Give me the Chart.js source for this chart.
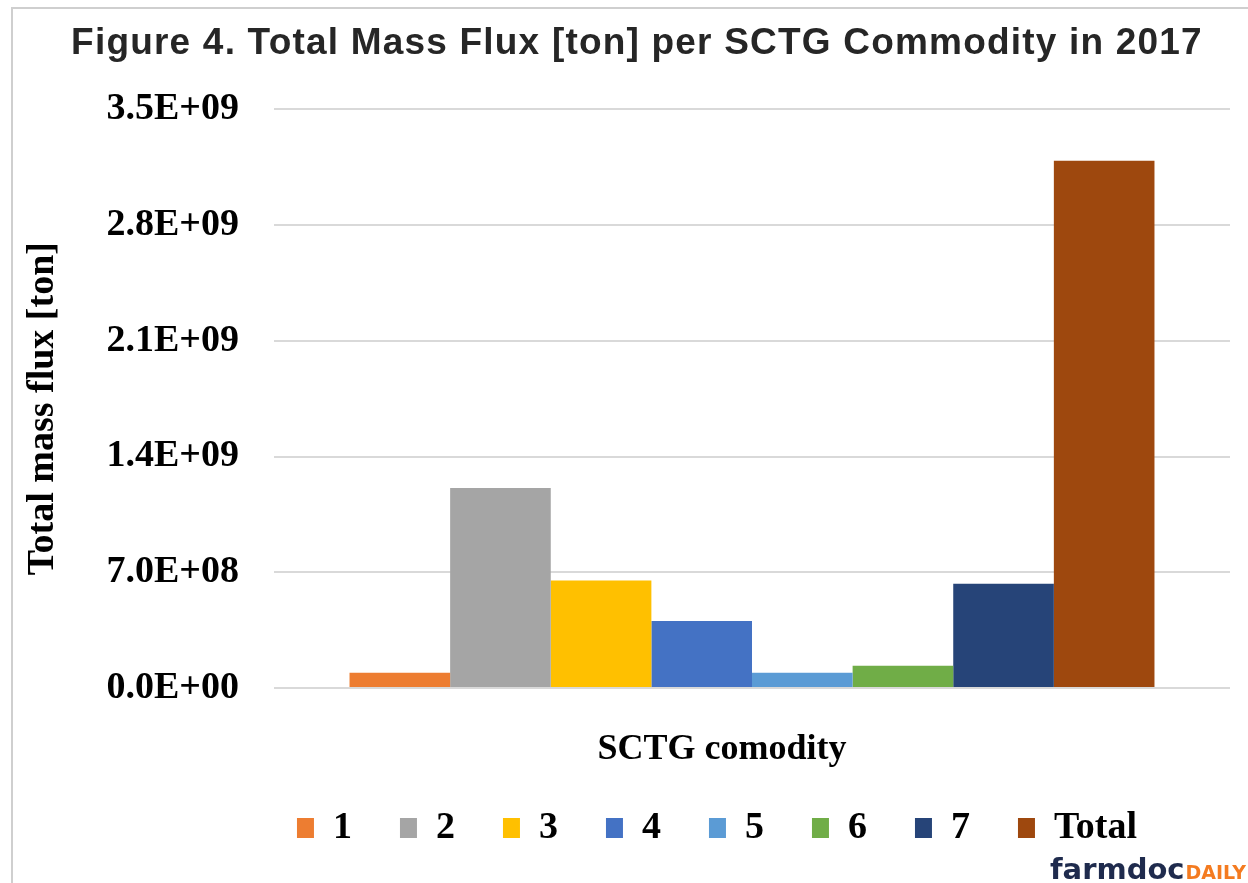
<!DOCTYPE html>
<html>
<head>
<meta charset="utf-8">
<script src="https://cdn.jsdelivr.net/npm/chart.js@4.4.0/dist/chart.umd.min.js"></script>
<style>
  html, body { margin: 0; padding: 0; background: #fff; }
  #wrap { position: relative; width: 1248px; height: 883px; overflow: hidden; }
  #frame { position: absolute; left: 11px; top: 7px; width: 1300px; height: 900px; border-top: 2px solid #cfcfcf; border-left: 2px solid #cfcfcf; }
  canvas { position: absolute; left: 0; top: 0; }
</style>
</head>
<body>
<div id="wrap">
  <div id="frame"></div>
  <canvas id="grafico" width="1248" height="883"></canvas>
</div>
<script>
const categories = [''];
const seriesNames = ['1', '2', '3', '4', '5', '6', '7', 'Total'];
const seriesValues = [9.2e7, 1.21e9, 6.5e8, 4.06e8, 9.2e7, 1.35e8, 6.3e8, 3.19e9];
const seriesColors = ['#ED7D31', '#A5A5A5', '#FFC000', '#4472C4', '#5B9BD5', '#70AD47', '#264478', '#9E480E'];
const yTickValues = [0, 7e8, 1.4e9, 2.1e9, 2.8e9, 3.5e9];

const serif = { family: 'Liberation Serif', size: 38, weight: 'bold' };

// 3.5E+09 style labels like Excel
function sci(v) {
  const parts = Number(v).toExponential(1).split('e');
  const n = parseInt(parts[1], 10);
  return parts[0] + 'E' + (n < 0 ? '-' : '+') + String(Math.abs(n)).padStart(2, '0');
}

function shift(box, dx) {
  if (!box) return;
  box.left += dx;
  box.right += dx;
}

const placement = {
  id: 'placement',
  afterLayout(chart) {
    const t = chart.titleBlock;
    if (t && !t._spaced) {
      const draw = t.draw.bind(t);
      t.draw = function (area) {
        chart.ctx.letterSpacing = '1.2px';
        draw(area);
        chart.ctx.letterSpacing = '0px';
      };
      t._spaced = true;
    }
    shift(t, 16);
    shift(chart.legend, 96);
    // only the axis titles move, ticks and bars are already configured
    shift(chart.scales.x, -30);
    chart.scales.y.top += 10;
    chart.scales.y.bottom += 10;
  },
  afterDraw(chart) {
    const c = chart.ctx;
    c.save();
    c.textBaseline = 'alphabetic';
    c.textAlign = 'left';
    c.font = 'bold 29px "DejaVu Sans"';
    const w1 = c.measureText('farmdoc').width;
    c.font = 'bold 19px "DejaVu Sans"';
    const w2 = c.measureText('DAILY').width;
    const x0 = 1246 - w1 - w2 - 1;
    c.font = 'bold 29px "DejaVu Sans"';
    c.fillStyle = '#1f2b4d';
    c.fillText('farmdoc', x0, 879);
    c.font = 'bold 19px "DejaVu Sans"';
    c.fillStyle = '#f47b20';
    c.fillText('DAILY', x0 + w1 + 1, 879);
    c.restore();
  }
};

const ctx = document.getElementById('grafico');

new Chart(ctx, {
  type: 'bar',
  data: {
    labels: categories,
    datasets: seriesNames.map((name, i) => ({
      label: name,
      data: [seriesValues[i]],
      backgroundColor: seriesColors[i],
      borderWidth: 0
    }))
  },
  options: {
    responsive: false,
    animation: false,
    devicePixelRatio: 1,
    barPercentage: 1,
    categoryPercentage: 0.842,
    layout: {
      padding: { left: 12, right: 18, top: 0, bottom: 26 }
    },
    scales: {
      x: {
        grid: { display: false, drawTicks: false },
        border: { display: false },
        ticks: { display: false },
        title: {
          display: true,
          text: 'SCTG comodity',
          color: '#000',
          font: { family: 'Liberation Serif', size: 36, weight: 'bold' },
          padding: { top: 40, bottom: -10.2 }
        }
      },
      y: {
        min: 0,
        max: 3.5e9,
        afterBuildTicks: scale => {
          scale.ticks = yTickValues.map(v => ({ value: v }));
        },
        afterFit: scale => {
          scale.width = 262;
        },
        grid: { color: '#d9d9d9', lineWidth: 2, drawTicks: false },
        border: { display: false },
        ticks: {
          color: '#000',
          font: serif,
          padding: 35,
          callback: v => sci(v)
        },
        title: {
          display: true,
          text: 'Total mass flux [ton]',
          color: '#000',
          font: serif,
          padding: { top: 8, bottom: 0 }
        }
      }
    },
    plugins: {
      title: {
        display: true,
        text: 'Figure 4. Total Mass Flux [ton] per SCTG Commodity in 2017',
        color: '#262626',
        font: { family: 'Liberation Sans', size: 37, weight: 'bold' },
        padding: { top: 22, bottom: 43 }
      },
      legend: {
        position: 'bottom',
        labels: {
          boxWidth: 17,
          boxHeight: 20,
          padding: 48,
          color: '#000',
          font: serif
        }
      },
      tooltip: { enabled: false }
    }
  },
  plugins: [placement]
});
</script>
</body>
</html>
